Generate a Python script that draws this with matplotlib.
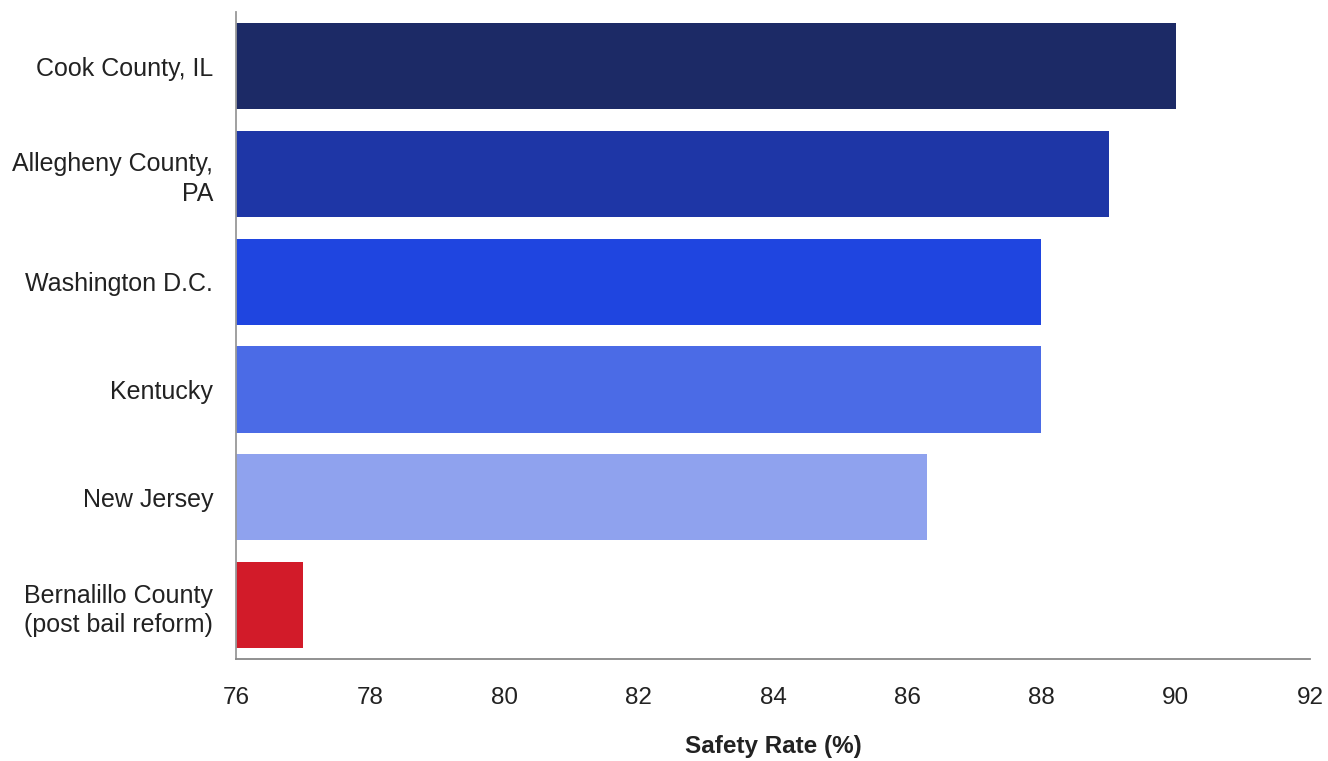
import matplotlib.pyplot as plt

plt.rcParams['font.family'] = ['Liberation Sans', 'DejaVu Sans']

# Datos de tasa de seguridad por jurisdicción
lugares = ["Cook County, IL", "Allegheny County,\nPA", "Washington D.C.",
           "Kentucky", "New Jersey", "Bernalillo County\n(post bail reform)"]
tasas = [90, 89, 88, 88, 86.3, 77]
colores = ["#1c2a66", "#1e36a6", "#1f45e0", "#4b6be6", "#8fa2ee", "#d21b29"]
ticks_x = [76, 78, 80, 82, 84, 86, 88, 90, 92]

fig = plt.figure(figsize=(13.28, 7.61), dpi=100)
ax = fig.add_axes([0.1777, 0.134, 0.8087, 0.850])

posiciones = list(range(len(lugares)))
ax.barh(posiciones, [t - 76 for t in tasas], left=76, height=0.8, color=colores)

ax.set_xlim(76, 92)
ax.set_ylim(len(lugares) - 0.5, -0.5)
ax.set_yticks(posiciones)
ax.set_yticklabels(lugares, fontsize=18, color="#222222", linespacing=1.27)
ax.set_xticks(ticks_x)
ax.set_xticklabels([str(t) for t in ticks_x], fontsize=17.5, color="#222222")
ax.tick_params(length=0, axis='y', pad=16.5)
ax.tick_params(length=0, axis='x', pad=20)

ax.spines['top'].set_visible(False)
ax.spines['right'].set_visible(False)
ax.spines['left'].set_color("#999999")
ax.spines['bottom'].set_color("#888888")
ax.spines['left'].set_linewidth(1.3)
ax.spines['bottom'].set_linewidth(1.3)

ax.set_xlabel("Safety Rate (%)", fontsize=17.5, fontweight='bold', color="#222222", labelpad=19)

fig.savefig("out.png", dpi=100)
